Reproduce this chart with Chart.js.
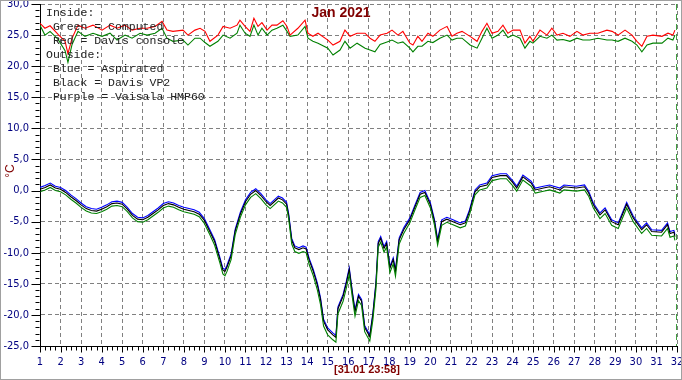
<!DOCTYPE html>
<html>
<head>
<meta charset="utf-8">
<script src="https://cdn.jsdelivr.net/npm/chart.js@4.4.1/dist/chart.umd.min.js"></script>
<style>
  body { margin: 0; background: #fff; }
  #wrap { width: 682px; height: 380px; position: relative; }
</style>
</head>
<body>
<div id="wrap"><canvas id="chart"></canvas></div>
<script>
// inside temperatures (day of month, deg C)
const inDays = [
  1.0, 1.24, 1.49, 1.88, 2.22, 2.36, 2.56, 2.85, 3.19, 3.58,
  4.02, 4.41, 4.75, 5.14, 5.48, 5.87, 6.21, 6.60, 6.94, 7.18,
  7.47, 7.96, 8.20, 8.54, 8.79, 9.03, 9.27, 9.66, 9.91, 10.25,
  10.59, 10.73, 10.98, 11.22, 11.41, 11.61, 11.80, 12.05, 12.29, 12.53,
  12.82, 13.02, 13.17, 13.55, 13.90, 14.04, 14.28, 14.53, 15.01, 15.26,
  15.60, 15.84, 16.09, 16.43, 16.82, 17.06, 17.30, 17.55, 17.89, 18.13,
  18.42, 18.66, 19.00, 19.15, 19.39, 19.59, 19.88, 20.12, 20.46, 20.81,
  21.05, 21.29, 21.54, 21.93, 22.27, 22.51, 22.75, 23.00, 23.29, 23.53,
  23.77, 24.02, 24.36, 24.60, 24.84, 24.99, 25.33, 25.67, 25.91, 26.16,
  26.45, 26.79, 27.13, 27.42, 27.76, 28.15, 28.59, 28.84, 29.13, 29.47,
  29.81, 30.05, 30.29, 30.54, 30.83, 31.27, 31.56, 31.80, 31.90
];
const inConsole = [
  26.9, 26.1, 26.5, 25.1, 24.0, 22.0, 24.5, 26.6, 26.1, 26.6,
  25.8, 26.6, 26.1, 26.6, 25.8, 26.1, 26.1, 26.4, 27.2, 25.8,
  25.6, 25.8, 25.0, 25.8, 26.1, 25.6, 24.0, 25.0, 26.4, 26.1,
  26.6, 27.4, 26.4, 25.6, 27.7, 26.4, 27.0, 25.8, 26.6, 26.6,
  27.3, 26.4, 25.0, 26.1, 27.4, 25.3, 24.8, 25.3, 24.2, 23.4,
  24.0, 25.8, 24.8, 25.3, 25.3, 24.5, 24.0, 25.0, 25.3, 25.8,
  25.0, 25.6, 23.7, 23.4, 24.8, 24.0, 25.3, 24.8, 25.8, 26.4,
  24.8, 25.3, 25.6, 24.8, 24.0, 25.6, 26.9, 25.3, 25.6, 26.6,
  25.3, 25.8, 25.8, 23.7, 24.8, 24.0, 25.8, 25.0, 26.1, 25.0,
  25.3, 24.8, 25.6, 25.0, 25.3, 25.3, 25.8, 25.6, 25.0, 25.8,
  25.0, 24.0, 23.2, 24.8, 25.0, 24.8, 25.3, 25.0, 25.8
];
const inComputed = [
  26.6, 25.0, 25.6, 24.3, 22.5, 20.6, 23.5, 25.6, 24.8, 25.3,
  24.8, 25.3, 24.2, 25.0, 24.5, 25.3, 25.0, 25.3, 26.1, 24.5,
  24.0, 24.2, 23.4, 24.5, 24.5, 23.8, 23.2, 24.0, 25.0, 24.5,
  25.3, 26.6, 25.3, 24.8, 26.6, 25.0, 26.1, 25.0, 25.8, 26.1,
  26.6, 25.6, 24.8, 25.0, 26.4, 24.5, 24.0, 23.7, 22.9, 21.8,
  22.6, 24.0, 22.9, 23.7, 22.9, 22.6, 22.3, 23.5, 23.9, 24.2,
  23.7, 23.9, 22.9, 22.3, 23.2, 23.2, 24.0, 23.8, 24.5, 25.0,
  24.2, 24.5, 24.5, 23.4, 22.9, 24.5, 26.1, 24.5, 25.0, 25.8,
  24.6, 25.0, 24.5, 22.9, 24.0, 23.7, 24.8, 24.5, 25.0, 24.2,
  24.3, 24.0, 24.5, 24.2, 24.2, 24.5, 24.2, 24.2, 24.0, 24.5,
  24.0, 23.4, 22.3, 23.4, 23.7, 23.7, 24.5, 24.2, 25.0
];

// outside temperatures
const outDays = [
  1.0, 1.25, 1.5, 1.75, 2.0, 2.25, 2.5, 2.75, 3.0, 3.25,
  3.5, 3.75, 4.0, 4.25, 4.5, 4.75, 5.0, 5.25, 5.5, 5.75,
  6.0, 6.25, 6.5, 6.75, 7.0, 7.25, 7.5, 7.75, 8.0, 8.25,
  8.5, 8.75, 9.0, 9.25, 9.5, 9.75, 9.9, 10.0, 10.1, 10.3,
  10.5, 10.75, 11.0, 11.25, 11.5, 11.75, 12.0, 12.2, 12.4, 12.6,
  12.8, 13.0, 13.1, 13.25, 13.4, 13.6, 13.8, 13.95, 14.1, 14.3,
  14.5, 14.65, 14.8, 15.0, 15.25, 15.4, 15.5, 15.75, 15.9, 16.05,
  16.2, 16.33, 16.5, 16.65, 16.8, 17.05, 17.2, 17.35, 17.46, 17.58,
  17.74, 17.87, 18.03, 18.19, 18.3, 18.48, 18.7, 19.0, 19.25, 19.5,
  19.73, 20.0, 20.2, 20.35, 20.55, 20.8, 21.1, 21.45, 21.7, 21.9,
  22.17, 22.4, 22.75, 23.0, 23.4, 23.7, 24.0, 24.2, 24.5, 24.9,
  25.1, 25.5, 25.8, 26.3, 26.5, 27.1, 27.5, 27.7, 27.93, 28.25,
  28.5, 28.82, 29.14, 29.55, 29.87, 30.28, 30.52, 30.77, 31.25, 31.54,
  31.66, 31.85, 31.9
];
const outAspirated = [
  0.5, 0.8, 1.2, 0.7, 0.5, 0.0, -0.7, -1.3, -2.0, -2.6,
  -2.9, -3.0, -2.7, -2.3, -1.8, -1.7, -1.9, -2.7, -3.7, -4.3,
  -4.4, -4.0, -3.4, -2.8, -2.1, -1.8, -2.0, -2.4, -2.7, -2.9,
  -3.1, -3.5, -4.5, -6.2, -7.9, -10.7, -12.5, -12.7, -12.0, -10.2,
  -6.2, -3.5, -1.5, -0.3, 0.3, -0.5, -1.5, -2.1, -1.5, -0.9,
  -1.2, -1.9, -3.7, -7.7, -8.9, -9.2, -8.9, -9.1, -10.9, -12.7,
  -14.9, -17.2, -20.7, -22.1, -22.9, -23.3, -18.7, -16.7, -14.7, -12.4,
  -16.2, -19.2, -16.7, -17.5, -21.7, -23.2, -19.7, -14.7, -8.2, -7.4,
  -9.0, -8.2, -12.2, -10.8, -12.7, -7.6, -6.0, -4.4, -2.3, -0.3,
  0.0, -2.0, -4.7, -7.9, -4.7, -4.3, -4.7, -5.2, -4.9, -3.1,
  0.1, 0.9, 1.2, 2.4, 2.7, 2.7, 1.6, 0.7, 2.5, 1.5,
  0.4, 0.7, 0.9, 0.4, 0.9, 0.7, 0.9, -0.1, -2.0, -3.6,
  -2.8, -4.7, -5.2, -1.9, -4.1, -6.0, -5.2, -6.3, -6.4, -5.2,
  -6.6, -6.4, -7.1
];
const outDavisVP2 = [
  0.2, 0.5, 0.9, 0.4, 0.2, -0.3, -1.0, -1.6, -2.3, -2.9,
  -3.2, -3.3, -3.0, -2.6, -2.1, -2.0, -2.2, -3.0, -4.0, -4.6,
  -4.7, -4.3, -3.7, -3.1, -2.4, -2.1, -2.3, -2.7, -3.0, -3.2,
  -3.4, -3.8, -4.8, -6.5, -8.2, -11.0, -12.8, -13.0, -12.3, -10.5,
  -6.5, -3.8, -1.8, -0.6, 0.0, -0.8, -1.8, -2.4, -1.8, -1.2,
  -1.5, -2.2, -4.0, -8.0, -9.2, -9.5, -9.2, -9.4, -11.2, -13.0,
  -15.2, -17.5, -21.0, -22.4, -23.2, -23.6, -19.0, -17.0, -15.0, -12.7,
  -16.5, -19.5, -17.0, -17.8, -22.0, -23.5, -20.0, -15.0, -8.5, -7.7,
  -9.3, -8.5, -12.5, -11.1, -13.0, -7.9, -6.3, -4.7, -2.6, -0.6,
  -0.3, -2.3, -5.0, -8.2, -5.0, -4.6, -5.0, -5.5, -5.2, -3.4,
  -0.2, 0.6, 0.9, 2.1, 2.4, 2.4, 1.3, 0.4, 2.2, 1.2,
  0.1, 0.4, 0.6, 0.1, 0.6, 0.4, 0.6, -0.4, -2.3, -3.9,
  -3.1, -5.0, -5.5, -2.2, -4.4, -6.3, -5.5, -6.6, -6.7, -5.5,
  -6.9, -6.7, -7.4
];
const outVaisala = [
  -0.2, 0.1, 0.5, 0.0, -0.2, -0.7, -1.4, -2.0, -2.7, -3.3,
  -3.6, -3.7, -3.4, -3.0, -2.5, -2.4, -2.6, -3.4, -4.4, -5.0,
  -5.1, -4.7, -4.1, -3.5, -2.8, -2.5, -2.7, -3.1, -3.4, -3.6,
  -3.8, -4.2, -5.3, -7.0, -8.8, -11.6, -13.4, -13.7, -13.0, -11.1,
  -7.1, -4.3, -2.3, -1.1, -0.5, -1.3, -2.3, -2.9, -2.3, -1.7,
  -2.0, -2.7, -4.5, -8.6, -9.8, -10.1, -9.8, -10.0, -11.9, -13.7,
  -16.0, -18.3, -21.8, -23.2, -24.0, -24.4, -19.8, -17.8, -15.8, -13.5,
  -17.2, -20.2, -17.7, -18.5, -22.7, -24.2, -20.8, -15.8, -9.1, -8.3,
  -9.9, -9.1, -13.2, -11.8, -13.8, -8.6, -6.9, -5.2, -3.1, -1.1,
  -0.8, -2.8, -5.6, -8.8, -5.6, -5.1, -5.5, -6.0, -5.7, -3.9,
  -0.7, 0.1, 0.4, 1.6, 1.9, 1.9, 0.8, -0.1, 1.7, 0.7,
  -0.4, -0.1, 0.1, -0.4, 0.1, -0.1, 0.1, -0.9, -2.8, -4.5,
  -3.7, -5.6, -6.1, -2.8, -5.0, -6.9, -6.1, -7.2, -7.3, -6.1,
  -7.5, -7.3, -8.0
];

// "now" marker at end of month
const nowDays = [32, 32];
const nowTemps = [30, -25];

const legendLines = [
  "Inside:",
  " Green = Computed",
  " Red = Davis console",
  "Outside:",
  " Blue = Aspirated",
  " Black = Davis VP2",
  " Purple = Vaisala HMP60"
];
const titleText = "Jan 2021";
const stampText = "[31.01 23:58]";
const unitText = "°C";

const toPoints = (xs, ys) => xs.map((x, i) => ({ x: x, y: ys[i] }));

const tickFont = { family: "'Liberation Sans Narrow', 'DejaVu Sans Condensed', sans-serif", size: 11 };

// minor / major ticks, texts and the outer frame
const decorPlugin = {
  id: "decor",
  afterDraw(chart) {
    const ctx = chart.ctx;
    const xs = chart.scales.x;
    const ys = chart.scales.y;
    const axisX = Math.round(xs.left) + 0.5;
    const axisY = Math.round(ys.bottom) + 0.5;
    ctx.save();
    ctx.strokeStyle = "#000";
    ctx.lineWidth = 1;
    ctx.beginPath();
    for (let v = -25; v <= 30; v++) {
      const py = Math.round(ys.getPixelForValue(v)) + 0.5;
      if (v % 5 === 0) {
        ctx.moveTo(axisX - 9, py);
        ctx.lineTo(axisX, py);
      } else {
        ctx.moveTo(axisX - 5, py);
        ctx.lineTo(axisX - 1, py);
      }
    }
    for (let d = 1; d <= 32; d += 0.25) {
      const px = Math.round(xs.getPixelForValue(d)) + 0.5;
      ctx.moveTo(px, axisY);
      ctx.lineTo(px, axisY + (Number.isInteger(d) ? 6 : 4));
    }
    ctx.stroke();

    // legend-ish text block
    ctx.fillStyle = "#222";
    ctx.font = "11.5px 'Liberation Mono', 'Courier New', monospace";
    ctx.textBaseline = "middle";
    ctx.textAlign = "left";
    legendLines.forEach((line, i) => {
      ctx.fillText(line, 46, 13 + i * 14);
    });

    // title
    ctx.fillStyle = "#800000";
    ctx.font = "bold 14px 'Liberation Sans', Arial, sans-serif";
    ctx.textAlign = "center";
    ctx.fillText(titleText, 341, 13);

    // time stamp
    ctx.font = "bold 11px 'Liberation Sans', Arial, sans-serif";
    ctx.fillText(stampText, 367, 370);

    // unit
    ctx.save();
    ctx.translate(11, 171);
    ctx.rotate(-Math.PI / 2);
    ctx.font = "12px 'Liberation Sans', Arial, sans-serif";
    ctx.fillText(unitText, 0, 0);
    ctx.restore();

    // frame
    ctx.strokeStyle = "#a0a0a0";
    ctx.strokeRect(0.5, 0.5, chart.width - 1, chart.height - 1);
    ctx.restore();
  }
};

new Chart(document.getElementById("chart"), {
  type: "line",
  data: {
    datasets: [
      { label: "Now", data: toPoints(nowDays, nowTemps), borderColor: "#008000", borderWidth: 1.5, borderDash: [6, 4], order: 0 },
      { label: "Red = Davis console", data: toPoints(inDays, inConsole), borderColor: "#ff0000", order: 1 },
      { label: "Green = Computed", data: toPoints(inDays, inComputed), borderColor: "#008000", order: 2 },
      { label: "Purple = Vaisala HMP60", data: toPoints(outDays, outVaisala), borderColor: "#008000", order: 3 },
      { label: "Black = Davis VP2", data: toPoints(outDays, outDavisVP2), borderColor: "#000000", order: 4 },
      { label: "Blue = Aspirated", data: toPoints(outDays, outAspirated), borderColor: "#0000ff", order: 5 }
    ]
  },
  options: {
    responsive: true,
    maintainAspectRatio: false,
    animation: false,
    layout: { padding: { top: 4, right: 5, left: 0, bottom: 0 } },
    elements: {
      line: { borderWidth: 1.1, tension: 0, fill: false },
      point: { radius: 0 }
    },
    plugins: {
      legend: { display: false },
      tooltip: { enabled: false },
      title: { display: false }
    },
    scales: {
      x: {
        type: "linear",
        min: 1,
        max: 32,
        grid: { color: "#808080", drawTicks: false },
        border: { display: true, color: "#000", dash: [4, 3] },
        ticks: { stepSize: 1, autoSkip: false, maxRotation: 0, padding: 10, color: "#000080", font: tickFont },
        afterFit(scale) { scale.height = 34; scale.paddingLeft = 0; scale.paddingRight = 0; }
      },
      y: {
        type: "linear",
        min: -25,
        max: 30,
        grid: { color: "#808080", drawTicks: false },
        border: { display: true, color: "#000", dash: [4, 3] },
        ticks: {
          stepSize: 5,
          padding: 11,
          color: "#000080",
          font: tickFont,
          callback: (v) => v.toFixed(1).replace(".", ",")
        },
        afterFit(scale) { scale.width = 40; scale.paddingTop = 0; scale.paddingBottom = 0; }
      }
    }
  },
  plugins: [decorPlugin]
});
</script>
</body>
</html>
